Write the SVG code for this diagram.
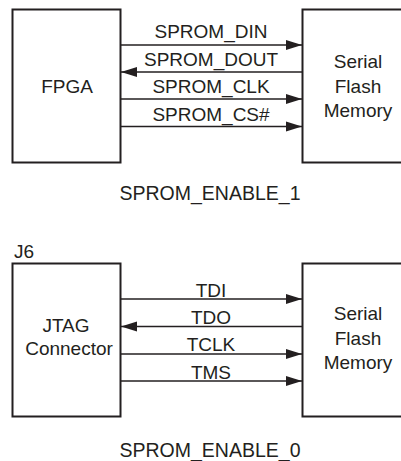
<svg xmlns="http://www.w3.org/2000/svg" width="401" height="461" viewBox="0 0 401 461">
<style>
text{font-family:"Liberation Sans",Arial,sans-serif;font-size:19px;fill:#231f20}
.m{text-anchor:middle}
.box{fill:none;stroke:#231f20;stroke-width:2}
.ln{stroke:#231f20;stroke-width:1.3;fill:none}
</style>
<defs>
<marker id="ah" markerUnits="userSpaceOnUse" markerWidth="16" markerHeight="12" refX="16" refY="6" orient="auto">
<path d="M0,1 L16,6 L0,11 Z" fill="#231f20"/>
</marker>
</defs>
<g id="fpga"><rect class="box" x="12.5" y="9.5" width="108" height="153"/><text class="m" x="67" y="93">FPGA</text></g>
<g id="flash1"><rect class="box" x="302.5" y="9.5" width="110" height="153"/><text class="m" x="358" y="68">Serial</text><text class="m" x="358" y="93">Flash</text><text class="m" x="358" y="117">Memory</text></g>
<g id="jtag"><text x="14" y="258">J6</text><rect class="box" x="12.5" y="263.5" width="108" height="153"/><text class="m" x="66" y="331.5">JTAG</text><text class="m" x="69" y="355">Connector</text></g>
<g id="flash2"><rect class="box" x="302.5" y="263.5" width="110" height="153"/><text class="m" x="358" y="320">Serial</text><text class="m" x="358" y="345">Flash</text><text class="m" x="358" y="369">Memory</text></g>
<g id="connectors">
<line class="ln" x1="121" y1="45" x2="302" y2="45" marker-end="url(#ah)"/>
<line class="ln" x1="302" y1="72" x2="121" y2="72" marker-end="url(#ah)"/>
<line class="ln" x1="121" y1="99" x2="302" y2="99" marker-end="url(#ah)"/>
<line class="ln" x1="121" y1="126.5" x2="302" y2="126.5" marker-end="url(#ah)"/>
<line class="ln" x1="121" y1="299" x2="302" y2="299" marker-end="url(#ah)"/>
<line class="ln" x1="302" y1="326.5" x2="121" y2="326.5" marker-end="url(#ah)"/>
<line class="ln" x1="121" y1="354" x2="302" y2="354" marker-end="url(#ah)"/>
<line class="ln" x1="121" y1="381" x2="302" y2="381" marker-end="url(#ah)"/>
<text class="m" x="211" y="38">SPROM_DIN</text>
<text class="m" x="211" y="65.5">SPROM_DOUT</text>
<text class="m" x="211" y="93">SPROM_CLK</text>
<text class="m" x="211" y="120.5">SPROM_CS#</text>
<text class="m" x="211" y="296.5">TDI</text>
<text class="m" x="211" y="324">TDO</text>
<text class="m" x="211" y="351">TCLK</text>
<text class="m" x="211" y="378.5">TMS</text>
</g>
<text class="m" x="210" y="200" style="font-size:19.5px">SPROM_ENABLE_1</text>
<text class="m" x="210" y="457" style="font-size:19.5px">SPROM_ENABLE_0</text>
</svg>
